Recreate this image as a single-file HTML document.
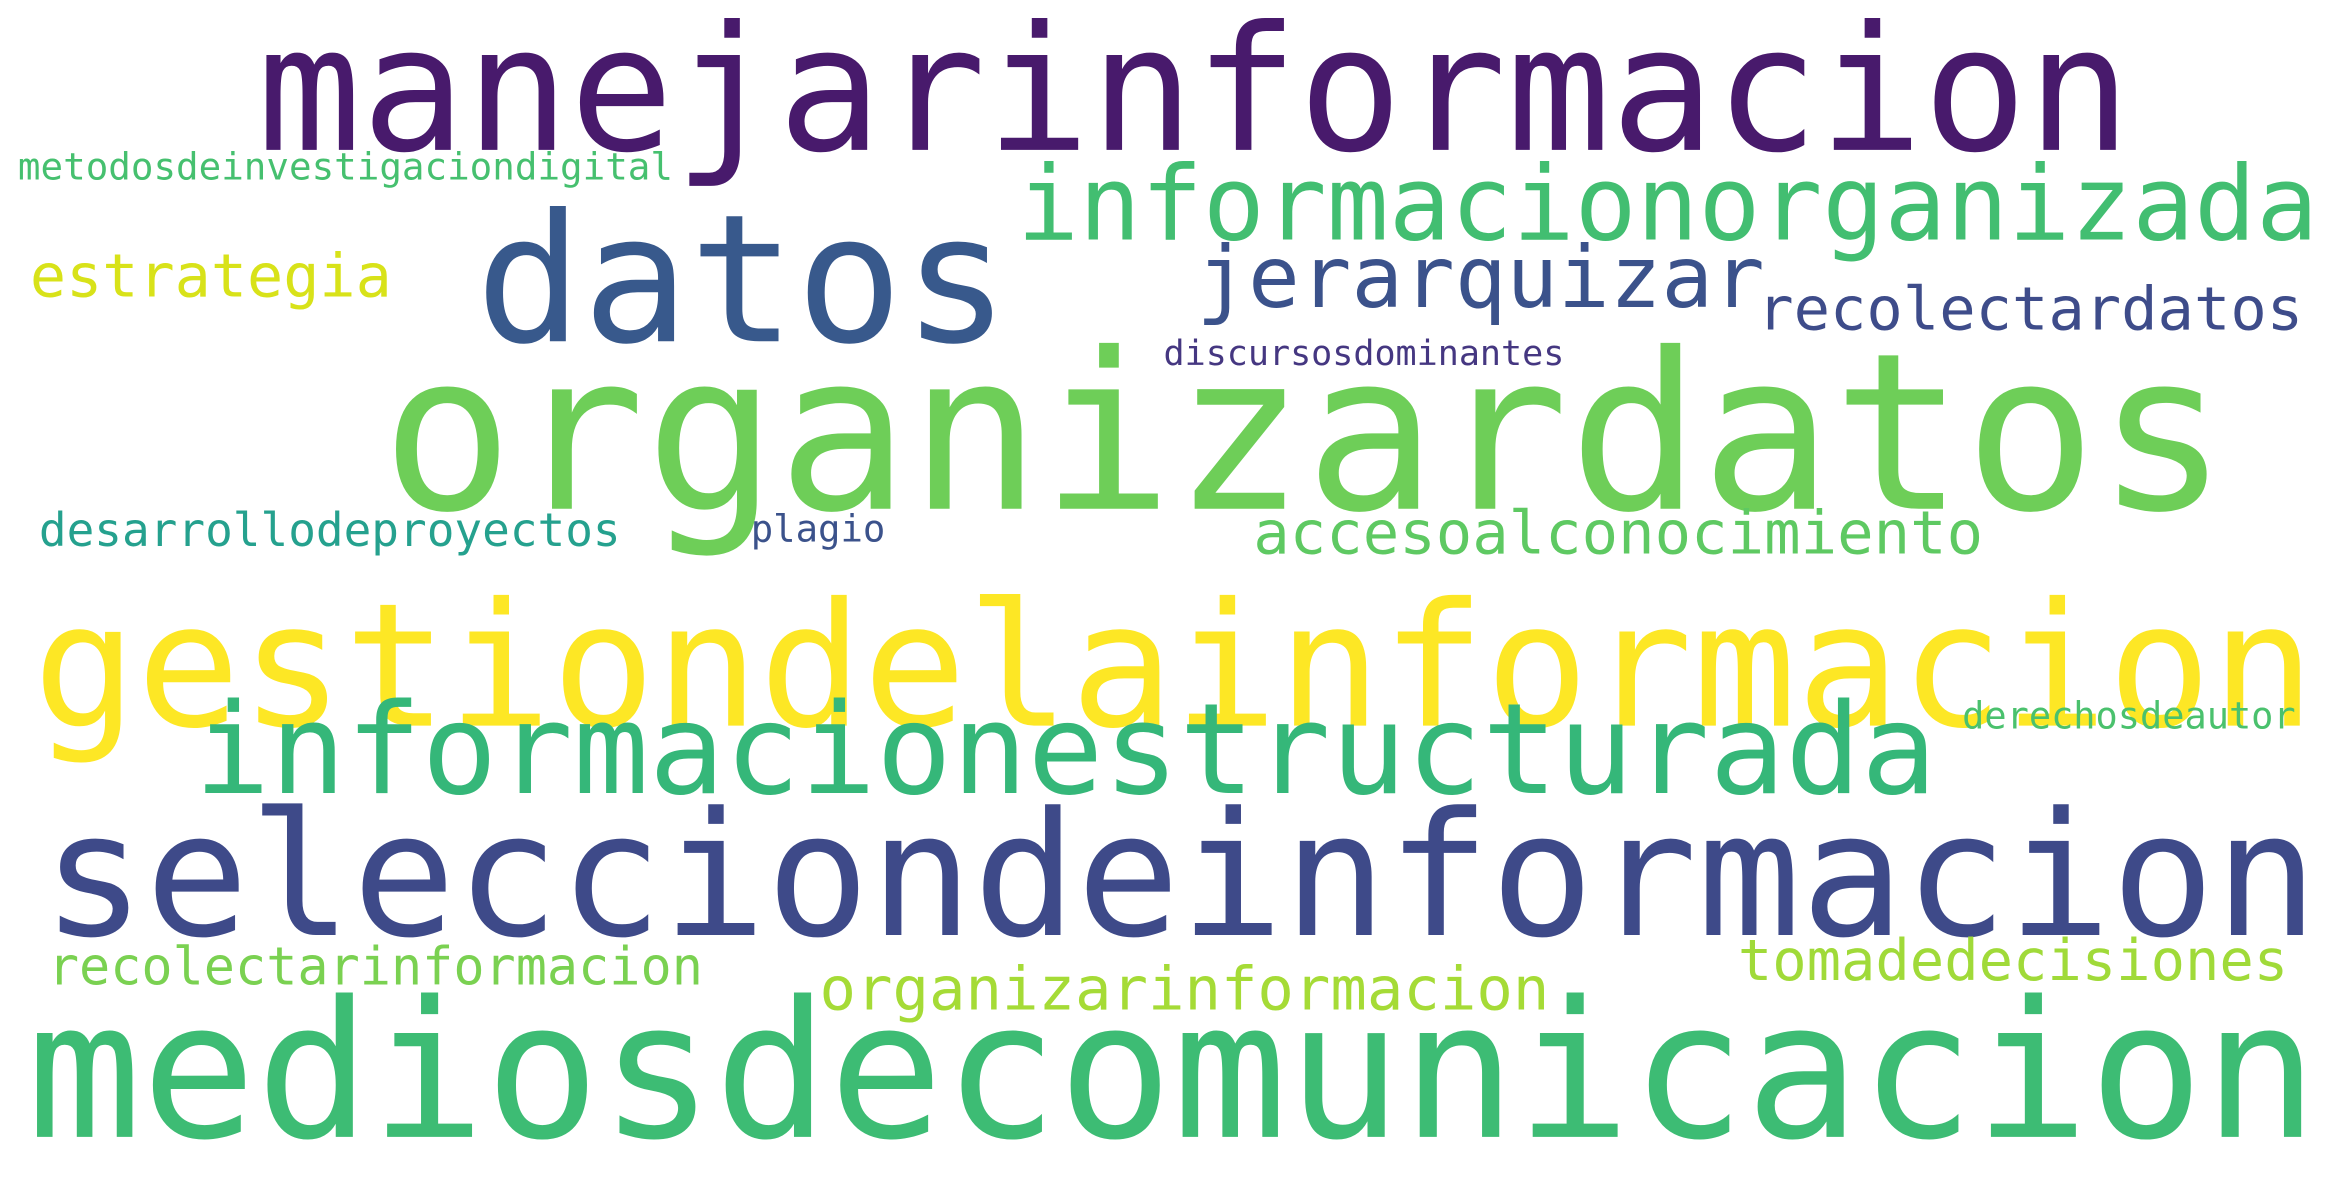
<!DOCTYPE html>
<html><head><meta charset="utf-8"><style>
html,body{margin:0;padding:0;background:#fff;}
svg{display:block}
text{font-family:"DejaVu Sans Mono","Liberation Mono",monospace;}
</style></head><body>
<svg width="2345" height="1182" viewBox="0 0 1568 790" xmlns="http://www.w3.org/2000/svg">
<rect width="1568" height="790" fill="#fff"/>
<g id="words"></g>
</svg>
<script>
const words=["manejarinformacion","datos","organizardatos","gestiondelainformacion","informacionestructurada","selecciondeinformacion","mediosdecomunicacion","informacionorganizada","jerarquizar","recolectardatos","estrategia","metodosdeinvestigaciondigital","discursosdominantes","desarrollodeproyectos","plagio","accesoalconocimiento","derechosdeautor","recolectarinformacion","organizarinformacion","tomadedecisiones"];
const sizes=[116,119,146,115,84,115,127,69,57,40,40,25,23,31,25,40,25,35,40,38];
const colors=["#481a6c","#38598c","#6ece58","#fde725","#35b779","#3e4a89","#3dbc74","#42be71","#3b528b","#3e4c8a","#d8e219","#46c06f","#453781","#25a18e","#3b528b","#5ec962","#4ac16d","#7ad151","#a5db36","#a0da39"];
const lefts=[172,318,255,22,130,28,18,680,800,1175,20,12,778,26,502,838,1312,32,548,1162];
const rights=[1425,675,1490,1548,1295,1550,1550,1550,1180,1540,262,450,1046,415,592,1326,1535,470,1036,1530];
const baselines=[100,228,340,485,530,625,760,160,205,220,198,120,244,365,362,370,487,658,675,655];
const g=document.getElementById('words');
words.forEach((w,i)=>{
  const t=document.createElementNS('http://www.w3.org/2000/svg','text');
  
  
  t.setAttribute('x',lefts[i]);
  t.setAttribute('y',baselines[i]);
  t.setAttribute('font-size',sizes[i]);
  t.setAttribute('fill',colors[i]);
  t.setAttribute('textLength',rights[i]-lefts[i]);
  t.setAttribute('lengthAdjust','spacingAndGlyphs');
  t.textContent=w;
  g.appendChild(t);
});
</script>
</body></html>
